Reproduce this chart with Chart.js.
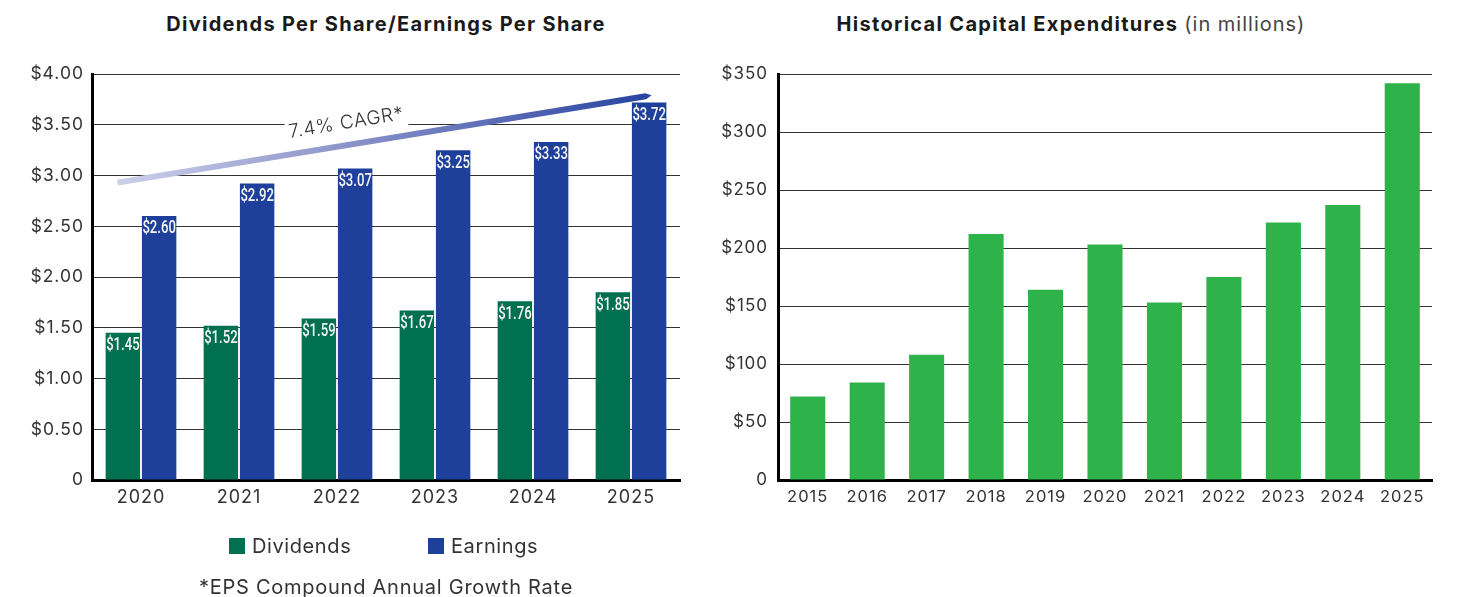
<!DOCTYPE html>
<html>
<head>
<meta charset="utf-8">
<script src="https://cdn.jsdelivr.net/npm/chart.js@4.4.1/dist/chart.umd.min.js"></script>
<style>
  body { margin: 0; width: 1457px; height: 597px; overflow: hidden; background: #fff; position: relative; font-family: Inter, 'Open Sans', sans-serif; color: #333; }
  .title { position: absolute; top: 12px; font-size: 20px; font-weight: 700; color: #1a1a1a; text-align: center; white-space: nowrap; letter-spacing: 1.3px; }
  .title span { font-weight: 400; color: #444; letter-spacing: 1px; }
  .box { position: absolute; }
  .legend { position: absolute; top: 534px; font-size: 20px; color: #333; white-space: nowrap; letter-spacing: 0.6px; }
  .legend i { display: inline-block; width: 16px; height: 16px; vertical-align: -1px; margin-right: 7px; }
  .foot { position: absolute; top: 575px; left: 0; width: 772px; text-align: center; font-size: 20px; color: #333; white-space: nowrap; letter-spacing: 0.75px; }
</style>
</head>
<body>
<div class="title" style="left:0;width:772px">Dividends Per Share/Earnings Per Share</div>
<div class="title" style="left:700px;width:742px">Historical Capital Expenditures <span>(in millions)</span></div>

<div class="box" style="left:0;top:0;width:700px;height:597px"><canvas id="epsChart" width="700" height="597"></canvas></div>
<div class="box" style="left:700px;top:0;width:757px;height:597px"><canvas id="capexChart" width="757" height="597"></canvas></div>

<div class="legend" style="left:229px"><i style="background:#007050"></i>Dividends</div>
<div class="legend" style="left:428px"><i style="background:#1e409a"></i>Earnings</div>
<div class="foot">*EPS Compound Annual Growth Rate</div>

<script>
// datos del gráfico de la izquierda
const epsYears = ['2020', '2021', '2022', '2023', '2024', '2025'];
const dividends = [1.45, 1.52, 1.59, 1.67, 1.76, 1.85];
const earnings = [2.60, 2.92, 3.07, 3.25, 3.33, 3.72];
const cagrLabel = '7.4% CAGR*';
const cagrTrend = [{ x: -0.24, y: 2.93 }, { x: 5.21, y: 3.79 }];

// datos del gráfico de la derecha
const capexYears = ['2015', '2016', '2017', '2018', '2019', '2020', '2021', '2022', '2023', '2024', '2025'];
const capex = [72, 84, 108, 212, 164, 203, 153, 175, 222, 237, 342];

// espaciado de letras para que el texto se vea más ancho
const spacing = {
    id: 'spacing',
    beforeLayout(chart) { chart.ctx.letterSpacing = '1px'; },
    beforeDraw(chart) { chart.ctx.letterSpacing = '1px'; }
};

// etiquetas blancas dentro de las barras (fuente estrechada)
const barLabels = {
    id: 'barLabels',
    afterDatasetsDraw(chart) {
        const ctx = chart.ctx;
        ctx.save();
        ctx.letterSpacing = '0px';
        ctx.font = '500 17.5px Roboto, sans-serif';
        ctx.fillStyle = '#f4f4f4';
        ctx.textAlign = 'center';
        ctx.textBaseline = 'middle';
        chart.data.datasets.forEach((ds, i) => {
            chart.getDatasetMeta(i).data.forEach((bar, j) => {
                ctx.save();
                ctx.translate(bar.x, bar.y + 13);
                ctx.scale(0.75, 1);
                ctx.fillText('$' + ds.data[j].toFixed(2), 0, 0);
                ctx.restore();
            });
        });
        ctx.restore();
    }
};

// línea de tendencia CAGR
const cagrLine = {
    id: 'cagrLine',
    afterDatasetsDraw(chart) {
        const { ctx, scales: { x, y } } = chart;
        const x0 = x.getPixelForValue(cagrTrend[0].x), y0 = y.getPixelForValue(cagrTrend[0].y);
        const x1 = x.getPixelForValue(cagrTrend[1].x), y1 = y.getPixelForValue(cagrTrend[1].y);
        const ang = Math.atan2(y1 - y0, x1 - x0);
        const len = Math.hypot(x1 - x0, y1 - y0);

        ctx.save();
        ctx.translate(x0, y0);
        ctx.rotate(ang);

        // texto con fondo blanco
        ctx.letterSpacing = '0.6px';
        ctx.font = '300 19px Inter';
        const w = ctx.measureText(cagrLabel).width;
        const mid = len * 0.435;
        ctx.fillStyle = '#fff';
        ctx.fillRect(mid - w / 2 - 3, -37, w + 6, 29);
        ctx.fillStyle = '#333';
        ctx.textAlign = 'center';
        ctx.textBaseline = 'middle';
        ctx.fillText(cagrLabel, mid, -22);

        // la línea con degradado y punta
        const g = ctx.createLinearGradient(0, 0, len, 0);
        g.addColorStop(0, '#cdd0ea');
        g.addColorStop(0.45, '#8890c9');
        g.addColorStop(1, '#2743a0');
        ctx.fillStyle = g;
        ctx.beginPath();
        ctx.moveTo(0, -3);
        ctx.lineTo(len - 6, -3);
        ctx.lineTo(len, 0);
        ctx.lineTo(len - 6, 3);
        ctx.lineTo(0, 3);
        ctx.closePath();
        ctx.fill();
        ctx.restore();
    }
};

new Chart(document.getElementById('epsChart').getContext('2d'), {
    type: 'bar',
    data: {
        labels: epsYears,
        datasets: [
            { label: 'Dividends', data: dividends, backgroundColor: '#007050' },
            { label: 'Earnings', data: earnings, backgroundColor: '#1e409a' }
        ]
    },
    options: {
        responsive: false,
        animation: false,
        layout: { padding: { top: 74, right: 20, bottom: 87, left: 0 } },
        datasets: { bar: { categoryPercentage: 0.74, barPercentage: 0.95 } },
        plugins: { legend: { display: false }, tooltip: { enabled: false } },
        scales: {
            x: {
                grid: { display: false, drawTicks: false },
                border: { display: true, color: '#000', width: 3 },
                ticks: { color: '#333', font: { family: 'Inter', size: 18 }, padding: 7, maxRotation: 0 },
                afterFit: s => { s.height = 30; }
            },
            y: {
                min: 0, max: 4,
                grid: { color: '#333', lineWidth: 1, drawTicks: false },
                border: { color: '#000', width: 3 },
                ticks: {
                    stepSize: 0.5, color: '#333', font: { family: 'Inter', size: 17.5 }, padding: 8,
                    callback: v => v === 0 ? '0' : '$' + v.toFixed(2)
                },
                afterFit: s => { s.width = 92; }
            }
        }
    },
    plugins: [spacing, barLabels, cagrLine]
});

new Chart(document.getElementById('capexChart').getContext('2d'), {
    type: 'bar',
    data: {
        labels: capexYears,
        datasets: [{ label: 'Capital Expenditures', data: capex, backgroundColor: '#2eb24a' }]
    },
    options: {
        responsive: false,
        animation: false,
        layout: { padding: { top: 74, right: 25, bottom: 87, left: 0 } },
        datasets: { bar: { categoryPercentage: 0.59, barPercentage: 1.0 } },
        plugins: { legend: { display: false }, tooltip: { enabled: false } },
        scales: {
            x: {
                grid: { display: false, drawTicks: false },
                border: { display: true, color: '#000', width: 3 },
                ticks: { color: '#333', font: { family: 'Inter', size: 16.5 }, padding: 7, maxRotation: 0, autoSkip: false },
                afterFit: s => { s.height = 30; }
            },
            y: {
                min: 0, max: 350,
                grid: { color: '#333', lineWidth: 1, drawTicks: false },
                border: { color: '#000', width: 3 },
                ticks: {
                    stepSize: 50, color: '#333', font: { family: 'Inter', size: 17 }, padding: 10,
                    callback: v => v === 0 ? '0' : '$' + v
                },
                afterFit: s => { s.width = 78; }
            }
        }
    },
    plugins: [spacing]
});
</script>
</body>
</html>
